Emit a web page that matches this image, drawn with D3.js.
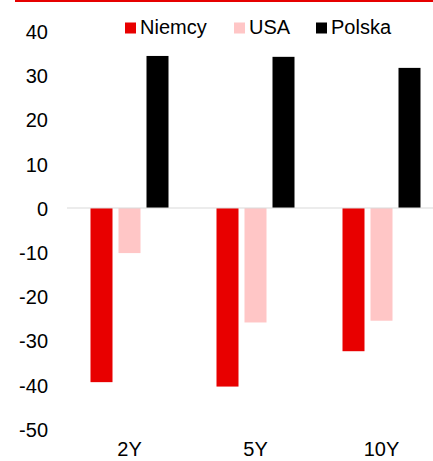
<!DOCTYPE html>
<html>
<head>
<meta charset="utf-8">
<script src="https://cdn.jsdelivr.net/npm/d3@7"></script>
<style>
html,body{margin:0;padding:0;background:#fff;}
svg{display:block;}
text{font-family:"Liberation Sans",Arial,sans-serif;fill:#000;}
</style>
</head>
<body>
<svg id="c" width="433" height="461"></svg>
<script>
const categories = ["2Y", "5Y", "10Y"];
const seriesNames = ["Niemcy", "USA", "Polska"];
const niemcy = [-39.4, -40.4, -32.4];
const usa = [-10.2, -25.9, -25.5];
const polska = [34.4, 34.2, 31.7];
const yTicks = [40, 30, 20, 10, 0, -10, -20, -30, -40, -50];
const colors = ["#E80000", "#FFC6C6", "#000000"];

const seriesValues = [niemcy, usa, polska];
const svg = d3.select("#c");

// top red rule
svg.append("rect").attr("x", 15).attr("y", 0).attr("width", 418).attr("height", 2).attr("fill", "#E60000");

const y = d3.scaleLinear().domain([-50, 40]).range([429, 31.2]);
const x = d3.scaleBand().domain(categories).range([66.5, 444.5]).paddingInner(0).paddingOuter(0);
const inner = d3.scaleBand().domain(seriesNames).range([0, 78]).paddingInner(6 / 28).paddingOuter(0);
const groupOffset = (x.bandwidth() - 78) / 2;

// y axis labels
const yAxis = d3.axisLeft(y).tickValues(yTicks).tickSize(0).tickPadding(0).tickFormat(d => String(d));
const ya = svg.append("g").attr("transform", "translate(48,0)").call(yAxis);
ya.select(".domain").remove();
ya.selectAll("text").style("font-size", "20px").style("font-family", "Liberation Sans, Arial, sans-serif").attr("fill", "#000").attr("dy", "0.36em");

// bars
const data = [];
categories.forEach((c, i) => {
  seriesNames.forEach((s, j) => {
    data.push({ c, s, v: seriesValues[j][i], col: colors[j] });
  });
});
svg.append("g").selectAll("rect").data(data).join("rect")
  .attr("x", d => x(d.c) + groupOffset + inner(d.s))
  .attr("width", inner.bandwidth())
  .attr("y", d => y(Math.max(0, d.v)))
  .attr("height", d => Math.abs(y(d.v) - y(0)))
  .attr("fill", d => d.col);

// zero line
svg.append("line").attr("x1", 67).attr("x2", 433).attr("y1", y(0)).attr("y2", y(0))
  .attr("stroke", "#D9D9D9").attr("stroke-width", 1.2);

// x axis labels
const xAxis = d3.axisBottom(x).tickSize(0).tickPadding(0);
const xa = svg.append("g").attr("transform", "translate(0,456)").call(xAxis);
xa.select(".domain").remove();
xa.selectAll("text").style("font-size", "20px").style("font-family", "Liberation Sans, Arial, sans-serif").attr("fill", "#000").attr("dy", "0").attr("y", 0);

// legend
const legendX = [125, 234, 316];
const lg = svg.append("g");
seriesNames.forEach((s, j) => {
  lg.append("rect").attr("x", legendX[j]).attr("y", 22.5).attr("width", 11).attr("height", 11).attr("fill", colors[j]);
  lg.append("text").attr("x", legendX[j] + 15).attr("y", 34.3).style("font-size", "20px").text(s);
});
</script>
</body>
</html>
